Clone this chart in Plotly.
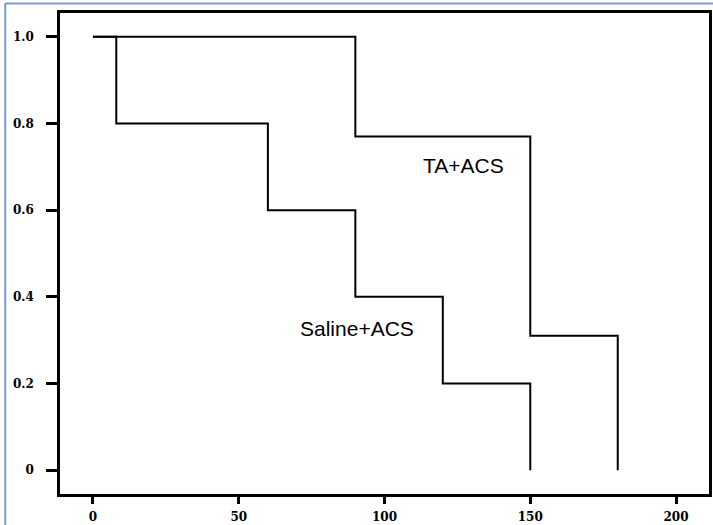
import plotly.graph_objects as go

# Data
ta_time = [0, 90, 150, 180]
ta_surv = [1.0, 0.77, 0.31, 0.0]
saline_time = [0, 8, 60, 90, 120, 150]
saline_surv = [1.0, 0.8, 0.6, 0.4, 0.2, 0.0]
x_ticks = [0, 50, 100, 150, 200]
y_ticks = [0, 0.2, 0.4, 0.6, 0.8, 1.0]
y_tick_labels = ["0", "0.2", "0.4", "0.6", "0.8", "1.0"]
labels = ["TA+ACS", "Saline+ACS"]
label_pos = [(127, 0.703), (90.4, 0.326)]

fig = go.Figure()
fig.add_trace(go.Scatter(x=ta_time, y=ta_surv, mode="lines", line_shape="hv",
                         line=dict(color="black", width=2), showlegend=False))
fig.add_trace(go.Scatter(x=saline_time, y=saline_surv, mode="lines", line_shape="hv",
                         line=dict(color="black", width=2), showlegend=False))

for txt, (lx, ly) in zip(labels, label_pos):
    fig.add_annotation(x=lx, y=ly, text=txt, showarrow=False,
                       font=dict(family="Liberation Sans, Arial", size=21, color="black"))

tickfont = dict(family="DejaVu Serif", size=12, color="black", weight="bold")

fig.update_layout(
    width=713, height=525,
    margin=dict(l=60, r=1, t=13, b=31),
    paper_bgcolor="white", plot_bgcolor="white",
    xaxis=dict(range=[-11.3, 211.3], tickvals=x_ticks, ticks="outside", ticklen=7,
               tickwidth=2.5, tickcolor="black", showgrid=False, zeroline=False,
               showline=True, linecolor="black", linewidth=2.5, mirror=True,
               tickfont=tickfont, ticklabelstandoff=3),
    yaxis=dict(range=[-0.055, 1.055], tickvals=y_ticks, ticktext=y_tick_labels,
               ticks="outside", ticklen=11, tickwidth=2.5, tickcolor="black",
               showgrid=False, zeroline=False, showline=True, linecolor="black",
               linewidth=2.5, mirror=True, tickfont=tickfont, ticklabelstandoff=10),
)

# thin blue frame of the original figure panel
fig.add_shape(type="line", xref="paper", yref="paper", x0=-0.0844, x1=-0.0844,
              y0=-0.2, y1=1.0197, line=dict(color="#7A9CCF", width=2))
fig.add_shape(type="line", xref="paper", yref="paper", x0=-0.0844, x1=1.1,
              y0=1.0197, y1=1.0197, line=dict(color="#7A9CCF", width=2))

fig.write_html("out.html", config={"displayModeBar": False},
               post_script="document.body.style.margin='0';")
